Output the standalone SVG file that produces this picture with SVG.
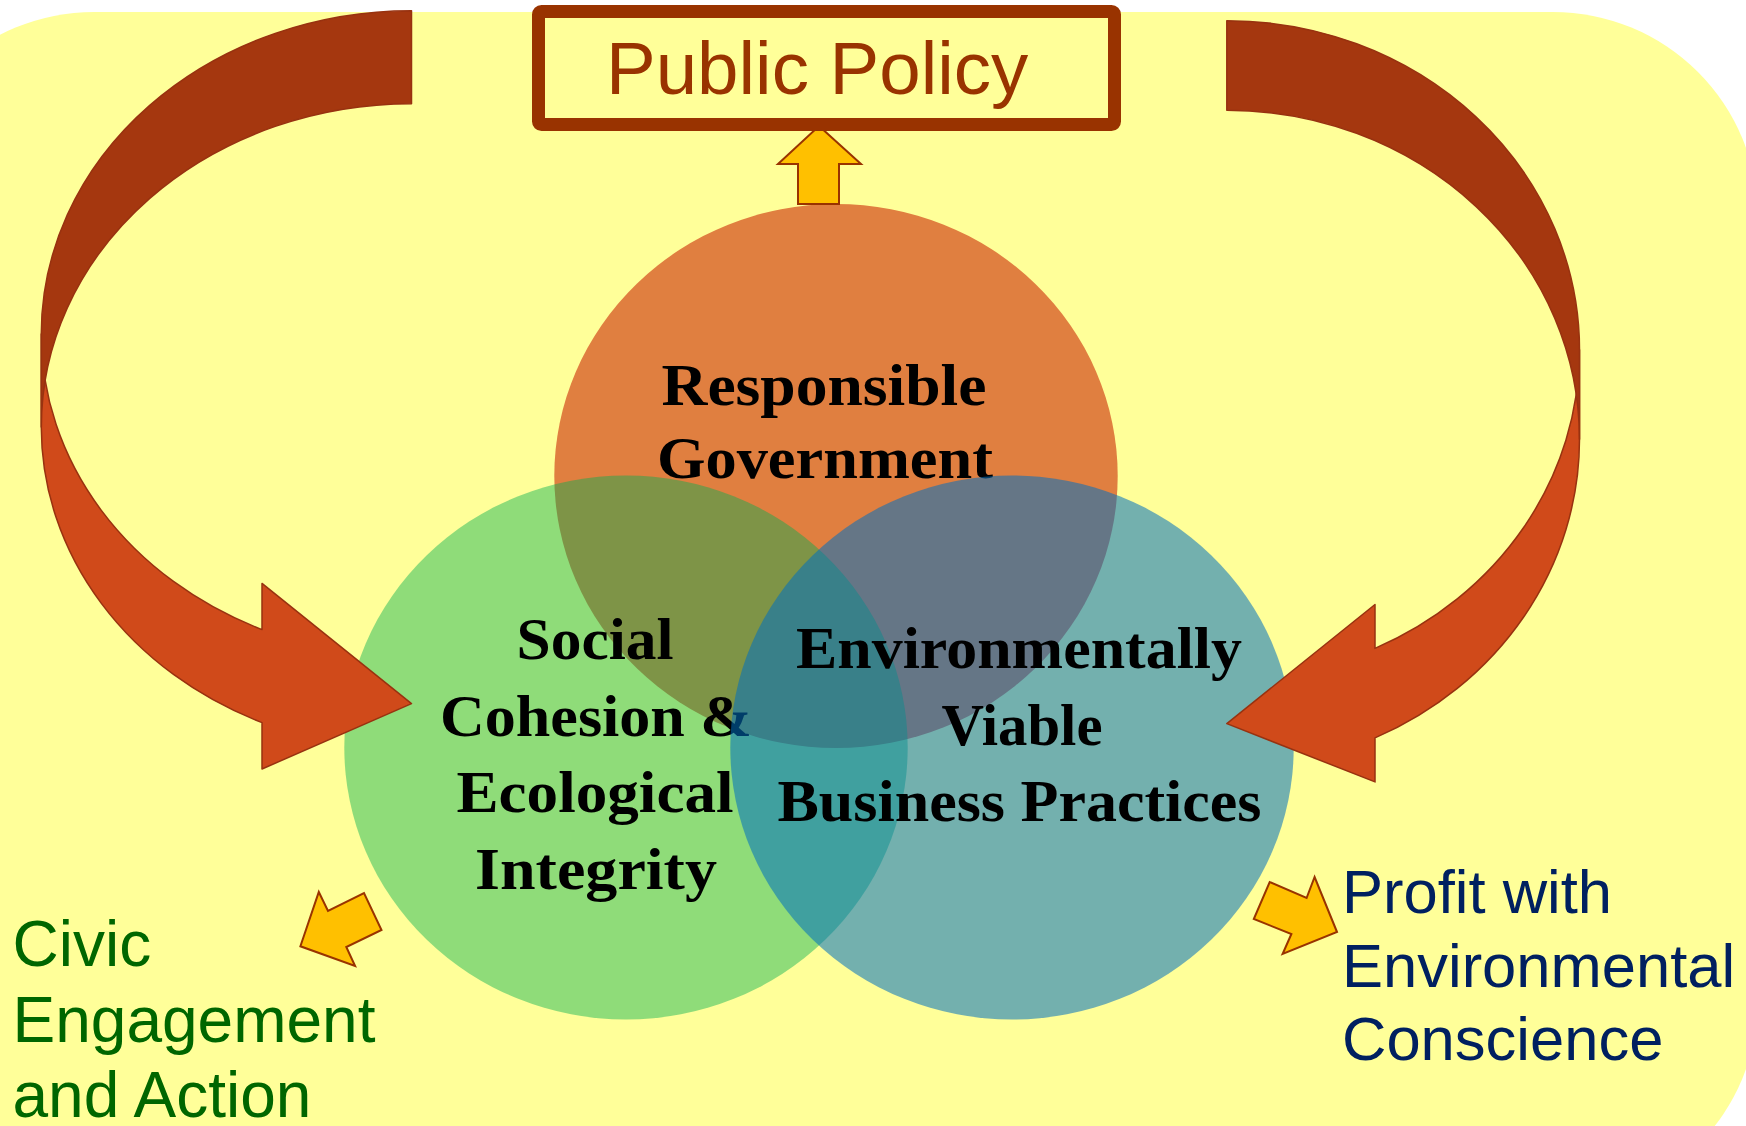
<svg xmlns="http://www.w3.org/2000/svg" width="1746" height="1126" viewBox="0 0 1746 1126">
  <defs>
    <style>
      .bg { fill: #FFFF99; }
      .venn-text { font-family: "Liberation Serif", "Times New Roman", serif; font-weight: bold; font-size: 60px; fill: #000000; text-anchor: middle; }
      .label { font-family: "Liberation Sans", Arial, sans-serif; }
      .civic { fill: #006600; font-size: 64px; }
      .profit { fill: #002060; font-size: 61.5px; }
      .policy-text { font-family: "Liberation Sans", Arial, sans-serif; font-size: 74.5px; fill: #993300; }
      .arrow-back { fill: #A5370F; stroke: #983210; stroke-width: 1.5; stroke-linejoin: round; }
      .arrow-front { fill: #D04A1A; stroke: #983210; stroke-width: 1.5; stroke-linejoin: round; }
      .small-arrow { fill: #FFC000; stroke: #993300; stroke-width: 2; stroke-linejoin: miter; }
    </style>
  </defs>

  <!-- background -->
  <rect class="bg" x="-111" y="12" width="1869" height="1193" rx="205" ry="205"/>

  <!-- Venn circles -->
  <g id="node-government">
    <ellipse cx="836" cy="476" rx="281.7" ry="272" fill="#E07F40"/>
    <text class="venn-text" x="824" y="405" textLength="325" lengthAdjust="spacingAndGlyphs">Responsible</text>
    <text class="venn-text" x="825" y="478" textLength="336" lengthAdjust="spacingAndGlyphs">Government</text>
  </g>
  <g id="node-social">
    <ellipse cx="626" cy="747.5" rx="281.7" ry="272" fill="#00B050" fill-opacity="0.44"/>
    <text class="venn-text" x="595" y="659" textLength="157" lengthAdjust="spacingAndGlyphs">Social</text>
    <text class="venn-text" x="596" y="736" textLength="312" lengthAdjust="spacingAndGlyphs">Cohesion &amp;</text>
    <text class="venn-text" x="595" y="812" textLength="277" lengthAdjust="spacingAndGlyphs">Ecological</text>
    <text class="venn-text" x="596" y="889" textLength="242" lengthAdjust="spacingAndGlyphs">Integrity</text>
  </g>
  <g id="node-business">
    <ellipse cx="1012" cy="747.5" rx="281.7" ry="272" fill="#0070C0" fill-opacity="0.55"/>
    <text class="venn-text" x="1019" y="668" textLength="446" lengthAdjust="spacingAndGlyphs">Environmentally</text>
    <text class="venn-text" x="1022" y="745" textLength="161" lengthAdjust="spacingAndGlyphs">Viable</text>
    <text class="venn-text" x="1019.5" y="821" textLength="484" lengthAdjust="spacingAndGlyphs">Business Practices</text>
  </g>

  <!-- connectors -->
  <g id="connectors">
    <!-- left curved arrow -->
    <path class="arrow-front" d="M41.3,333.9 A370.2,323.2 0 0 0 262,629.6 L262,583.4 L411.5,703.6 L262,769 L262,722.6 A370.2,323.2 0 0 1 41.3,426.9 Z"/>
    <path class="arrow-back" d="M411.5,10.7 A370.2,323.2 0 0 0 41.3,333.9 L41.3,426.9 A370.2,323.2 0 0 1 411.5,103.7 Z"/>
    <!-- right curved arrow -->
    <path class="arrow-front" d="M1579.5,349.8 A352.7,329.1 0 0 1 1375,648.4 L1375,604.5 L1226.8,723.6 L1375,781.9 L1375,737.9 A352.7,329.1 0 0 0 1579.5,439.3 Z"/>
    <path class="arrow-back" d="M1226.8,20.7 A352.7,329.1 0 0 1 1579.5,349.8 L1579.5,439.3 A352.7,329.1 0 0 0 1226.8,110.2 Z"/>
    <!-- small arrows -->
    <polygon class="small-arrow" points="819,126 861,164 839,164 839,204 798,204 798,164 778,164"/>
    <polygon class="small-arrow" points="300.4,946.3 318.8,892 328,911 364,893 381.5,930 346.3,947 355.1,966"/>
    <polygon class="small-arrow" points="1337,932 1314.6,877 1306.6,898 1269.7,882 1253.8,919 1291.4,934 1282.6,954"/>
  </g>

  <!-- Public Policy box -->
  <g id="node-policy">
    <rect x="538.5" y="11.5" width="576" height="113" rx="3" ry="3" fill="#FFFF99" stroke="#993300" stroke-width="13" stroke-linejoin="round"/>
    <text class="policy-text" x="606" y="94">Public Policy</text>
  </g>

  <!-- outcome labels -->
  <g id="node-civic" class="label civic">
    <text x="12.5" y="965.7">Civic</text>
    <text x="12.5" y="1041.7">Engagement</text>
    <text x="12.5" y="1116.7">and Action</text>
  </g>
  <g id="node-profit" class="label profit">
    <text x="1342" y="912.7">Profit with</text>
    <text x="1342" y="986.7">Environmental</text>
    <text x="1342" y="1060">Conscience</text>
  </g>
</svg>
